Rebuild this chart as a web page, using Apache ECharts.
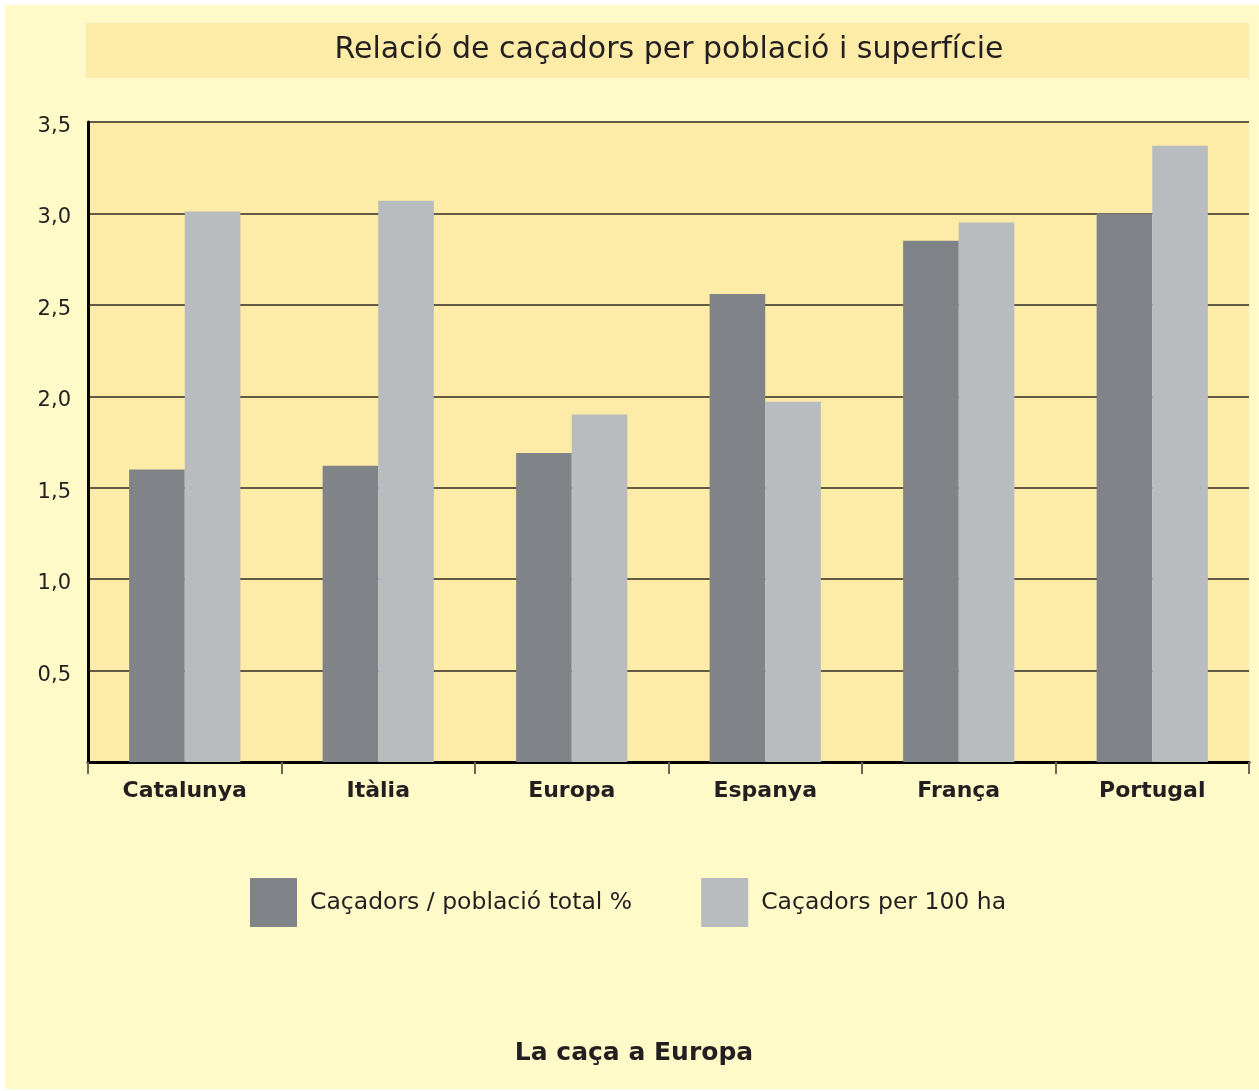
<!DOCTYPE html>
<html>
<head>
<meta charset="utf-8">
<script src="https://cdn.jsdelivr.net/npm/echarts@6/dist/echarts.min.js"></script>
<style>
  html, body { margin: 0; padding: 0; background: #ffffff; }
  #chart { width: 1259px; height: 1091px; }
</style>
</head>
<body>
<div id="chart"></div>
<script>
const paisos = ['Catalunya', 'Itàlia', 'Europa', 'Espanya', 'França', 'Portugal'];
const perPoblacio = [1.60, 1.62, 1.69, 2.56, 2.85, 3.00];
const per100ha = [3.01, 3.07, 1.90, 1.97, 2.95, 3.37];
const nomsSeries = ['Caçadors / població total %', 'Caçadors per 100 ha'];

document.addEventListener('DOMContentLoaded', () => {
    var chart = echarts.init(document.getElementById('chart'));
    const font = 'DejaVu Sans, Liberation Sans, sans-serif';

    const option = {
        backgroundColor: '#ffffff',
        textStyle: { fontFamily: font },
        graphic: [
            // fons groc clar
            { type: 'rect', shape: { x: 5, y: 5, width: 1254, height: 1084 }, style: { fill: '#fffac8' }, z: -10 },
            // caixa del títol
            { type: 'rect', shape: { x: 86, y: 23, width: 1163, height: 55 }, style: { fill: '#fdeca8' }, z: -9 },
            {
                type: 'text', x: 634, y: 1041,
                style: { text: 'La caça a Europa', font: 'bold 25px ' + font, fill: '#231f20', align: 'center' }
            }
        ],
        title: {
            text: 'Relació de caçadors per població i superfície',
            left: 664, top: 30, textAlign: 'center',
            textStyle: { fontSize: 30, fontWeight: 'normal', color: '#231f20', fontFamily: font }
        },
        legend: {
            data: nomsSeries,
            left: 245, top: 873,
            itemWidth: 47, itemHeight: 49, itemGap: 69,
            icon: 'rect',
            textStyle: { fontSize: 23.5, color: '#231f20', fontFamily: font, padding: [0, 0, 0, 8] }
        },
        grid: {
            left: 88, right: 10, top: 122, bottom: 329,
            show: true, backgroundColor: '#fdeba8', borderWidth: 0
        },
        xAxis: {
            type: 'category',
            data: paisos,
            axisLine: { lineStyle: { color: '#000000', width: 3 } },
            axisTick: { show: true, length: 12, lineStyle: { color: '#6b6656', width: 2 } },
            axisLabel: { fontSize: 22, fontWeight: 'bold', color: '#231f20', margin: 18, fontFamily: font }
        },
        yAxis: {
            type: 'value',
            min: 0, max: 3.5, interval: 0.5,
            axisLine: { show: true, lineStyle: { color: '#000000', width: 3 } },
            axisTick: { show: false },
            splitLine: { lineStyle: { color: '#2f2a22', width: 1.5 } },
            axisLabel: {
                color: '#231f20', margin: 17,
                formatter: v => v === 0 ? '' : '{n|' + v.toFixed(1).replace('.', ',') + '}',
                rich: {
                    n: { fontSize: 21, color: '#231f20', fontFamily: font, padding: [9, 0, 0, 0] }
                }
            }
        },
        series: [
            {
                name: nomsSeries[0], type: 'bar', data: perPoblacio,
                itemStyle: { color: '#808489' },
                barGap: '0%', barCategoryGap: '42.5%'
            },
            {
                name: nomsSeries[1], type: 'bar', data: per100ha,
                itemStyle: { color: '#b9bcbf' },
                barGap: '0%', barCategoryGap: '42.5%'
            }
        ]
    };

    chart.setOption(option);
    window.addEventListener('resize', () => chart.resize());
});
</script>
</body>
</html>
